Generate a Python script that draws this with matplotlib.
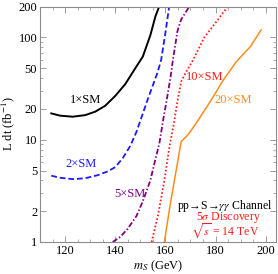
"""Luminosity needed for 5 sigma discovery in pp -> S -> gamma gamma.
"""

import numpy as np
import matplotlib.pyplot as plt
from matplotlib.ticker import FixedLocator, MultipleLocator, NullFormatter

plt.rcParams["font.family"] = ["Liberation Serif", "DejaVu Serif"]
plt.rcParams["mathtext.fontset"] = "stix"
plt.rcParams["font.size"] = 9

# curves: (m_S in GeV, luminosity in fb^-1)
m_1sm = [114.5, 118, 123, 128, 132, 136, 140, 144, 148, 151, 154, 156, 157.5]
L_1sm = [18.1, 17.2, 16.8, 17.4, 18.8, 21.5, 26.8, 35, 50, 65, 105, 160, 200]

m_2sm = [114.5, 118, 123, 128, 133, 137, 140, 143, 146, 148.5, 151, 153, 155,
         156.8, 158.3, 160, 161.5]
L_2sm = [4.45, 4.25, 4.12, 4.2, 4.5, 4.9, 5.4, 6.6, 8.7, 12, 18, 25, 34,
         45, 60, 110, 200]

m_5sm = [139, 142, 145, 148.5, 151, 154, 156, 157.6, 159, 160.3, 162, 163,
         164.8, 166.3, 169.5]
L_5sm = [1, 1.12, 1.35, 1.8, 2.5, 4.0, 6.4, 9.2, 15, 22.7, 40, 60,
         115, 150, 200]

m_10sm = [154.5, 157, 159.6, 161.6, 163.3, 164.9, 166.3, 167.6, 171, 175.5,
          181, 184.8]
L_10sm = [1, 1.8, 4.0, 8.5, 14, 24.5, 37, 43, 60, 100, 150, 200]

m_20sm = [159.6, 161.9, 163.6, 165, 166.3, 168.9, 172.3, 178.3, 183, 188.3,
          194, 198.2]
L_20sm = [1, 2.3, 4.0, 6.3, 9.6, 11.1, 14.5, 24.5, 38, 58, 82, 119]

y_ticks = [1, 2, 5, 10, 20, 50, 100, 200]
x_ticks = [120, 140, 160, 180, 200]

frame = "#8c8c8c"

fig = plt.figure(figsize=(2.78, 2.74), dpi=100)
ax = fig.add_axes([40/278, 32/274, 235.7/278, 235.3/274])

ax.plot(m_1sm, L_1sm, color="black", lw=1.4)
ax.plot(m_2sm, L_2sm, color="#1a1aff", lw=1.3, dashes=(3.2, 1.6))
ax.plot(m_5sm, L_5sm, color="#800080", lw=1.3, dashes=(3.0, 1.2, 0.8, 1.2))
ax.plot(m_10sm, L_10sm, color="#ff1a1a", lw=1.3, dashes=(0.9, 1.2))
ax.plot(m_20sm, L_20sm, color="#ff8c1a", lw=1.1)

ax.set_yscale("log")
ax.set_xlim(110, 204)
ax.set_ylim(1, 200)

ax.yaxis.set_major_locator(FixedLocator(y_ticks))
ax.set_yticklabels([str(t) for t in y_ticks])
minor_y = [v * d for d in (1, 10, 100) for v in range(2, 10)]
ax.yaxis.set_minor_locator(FixedLocator(minor_y))
ax.yaxis.set_minor_formatter(NullFormatter())
ax.xaxis.set_major_locator(FixedLocator(x_ticks))
ax.xaxis.set_minor_locator(MultipleLocator(5))

ax.tick_params(which="both", direction="in", top=True, right=True,
               color=frame, labelsize=9, pad=2)
ax.tick_params(which="major", length=4, width=0.6)
ax.tick_params(which="minor", length=2, width=0.5)
for s in ax.spines.values():
    s.set_color(frame)
    s.set_linewidth(0.8)

ax.set_xlabel("$m_S$ (GeV)", fontsize=9, labelpad=1)
fig.text(8/278, 1 - 124/274, "L dt (fb$^{-1}$)", fontsize=9,
         rotation=90, ha="center", va="center")

ax.text(128.3, 24.5, "1×SM", color="black", ha="center", va="center")
ax.text(126.3, 5.8, "2×SM", color="#1a1aff", ha="center", va="center")
ax.text(146, 2.95, "5×SM", color="#800080", ha="center", va="center")
ax.text(175.6, 41.5, "10×SM", color="#ff1a1a", ha="center", va="center")
ax.text(186.9, 24.5, "20×SM", color="#ff8c1a", ha="center", va="center")

ax.text(0.785, 0.152, "pp→S→$\\gamma\\gamma$ Channel", color="black",
        ha="center", va="center", transform=ax.transAxes, fontsize=8.5)
ax.text(0.80, 0.102, "5$\\sigma$ Discovery", color="#ff1a1a",
        ha="center", va="center", transform=ax.transAxes, fontsize=8.5)
ax.text(0.785, 0.048, "$\\sqrt{s}$ = 14 TeV", color="#ff1a1a",
        ha="center", va="center", transform=ax.transAxes, fontsize=8.5)

fig.savefig("out.png", dpi=100)
